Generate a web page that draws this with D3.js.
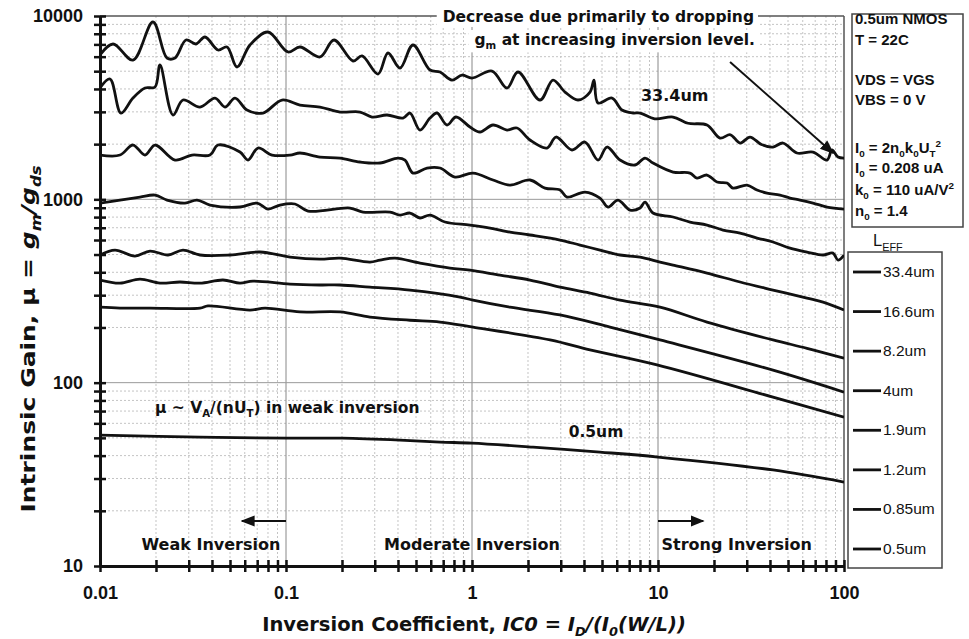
<!DOCTYPE html>
<html><head><meta charset="utf-8">
<script src="https://cdn.jsdelivr.net/npm/d3@7"></script>
<style>body{margin:0;background:#fff}svg{display:block}</style>
</head><body>
<svg id="c" width="969" height="639" font-family="'DejaVu Sans', sans-serif"></svg>
<script>
// ---- data (IC0, intrinsic gain) ----
const icTicks = [0.01, 0.1, 1, 10, 100];
const gainTicks = [10, 100, 1000, 10000];
const legendLabels = ["33.4um","16.6um","8.2um","4um","1.9um","1.2um","0.85um","0.5um"];

const L334 = [[0.01,6128],[0.01175,7036],[0.01504,5754],[0.01927,9275],[0.02292,5900],[0.0253,5900],[0.029,7397],[0.03282,7036],[0.03668,7682],[0.04309,6525],[0.04818,6776],[0.05452,5269],[0.06405,6949],[0.08004,8179],[0.1025,6364],[0.1189,6776],[0.1523,5976],[0.1812,7397],[0.2292,5683],[0.2563,6052],[0.3123,4825],[0.3535,6284],[0.4103,5203],[0.4817,6949],[0.5946,5074],[0.673,4948],[0.7806,4474],[0.8838,4765],[1.0,4588],[1.281,5010],[1.542,4048],[1.767,4948],[2.321,3481],[2.726,4474],[3.162,3848],[3.715,3481],[4.309,3848],[4.528,4474],[4.757,3352],[5.657,3569],[6.405,3070],[7.337,2957],[8.004,2957],[9.6,2750],[12.04,2812],[14.5,2600],[18.34,2543],[21.54,2160],[24.5,2250],[27.61,2028],[31.24,2187],[36,1990],[41.52,1929],[46.99,2028],[55.88,1789],[68.13,1811],[81.04,1638],[86.19,1858],[92.85,1701],[100,1680]];
const L166 = [[0.01,4048],[0.01132,4531],[0.01297,2957],[0.01504,3569],[0.01746,4048],[0.01976,4099],[0.02101,5404],[0.02469,2884],[0.02794,3481],[0.03449,3188],[0.04152,3569],[0.04699,3188],[0.05318,3569],[0.0617,3070],[0.07523,2957],[0.09517,3481],[0.1189,3269],[0.1523,3188],[0.1952,2994],[0.25,2994],[0.29,2812],[0.3491,2884],[0.4256,2777],[0.4642,2957],[0.5253,2388],[0.5946,2777],[0.6482,2957],[0.7337,2543],[0.8204,2812],[0.9754,2480],[1.104,2329],[1.297,2543],[1.542,2388],[1.746,2449],[2.05,2106],[2.53,1905],[2.829,2187],[3.449,1858],[4.05,2054],[4.757,1638],[5.318,1929],[6.248,1638],[7.523,1539],[8.513,1680],[9.399,1578],[12.04,1409],[14.86,1391],[16.21,1307],[18.34,1357],[20.76,1243],[23.5,1227],[25.3,1152],[30.1,1196],[34.06,1124],[38.55,1082],[45.29,1055],[51.25,1016],[57.99,991],[68.13,954],[81.04,908],[100,885]];
const L82 = [[0.01,1744],[0.01281,1744],[0.01504,1978],[0.01746,1744],[0.01976,1978],[0.0253,1638],[0.03124,1744],[0.03902,1744],[0.04309,1978],[0.05657,1811],[0.06248,1638],[0.07071,1905],[0.0841,1744],[0.1051,1744],[0.1189,1789],[0.1523,1701],[0.1952,1680],[0.25,1598],[0.3202,1578],[0.4002,1680],[0.4363,1638],[0.4817,1391],[0.5729,1482],[0.673,1482],[0.8101,1323],[1.0125,1391],[1.297,1275],[1.6,1196],[2.05,1275],[2.469,1152],[2.973,1124],[3.242,1029],[4.05,1096],[4.877,1016],[5.384,908],[6.095,991],[7.071,874],[8.004,896],[8.513,966],[9.399,842],[12.04,801],[14.86,752],[18.34,724],[22.36,680],[27.61,655],[34.06,615],[41.52,585],[51.25,542],[63.24,516],[77.13,497],[87.27,509],[92.85,466],[100,497]];
const L4 = [[0.01,954],[0.01281,991],[0.01641,1029],[0.01976,1055],[0.02292,991],[0.02864,954],[0.03322,991],[0.03902,931],[0.05657,908],[0.06984,954],[0.08004,885],[0.09285,931],[0.1118,943],[0.1313,863],[0.2208,896],[0.2594,852],[0.3624,852],[0.4103,821],[0.4642,842],[0.5253,791],[0.5946,821],[0.7157,752],[0.9754,724],[1.25,697],[1.6,663],[2.05,639],[2.973,600],[3.808,563],[4.877,529],[6.248,497],[8.004,484],[10.25,455],[12.04,438],[18.34,396],[27.61,354],[41.52,320],[63.24,289],[77.13,275],[100,249]];
const L19 = [[0.01,497],[0.01204,529],[0.01542,490],[0.01857,522],[0.02321,497],[0.02794,529],[0.03449,497],[0.05,497],[0.07249,516],[0.1051,484],[0.1523,472],[0.1952,478],[0.2829,455],[0.3202,466],[0.3855,478],[0.5253,449],[0.7614,422],[0.9754,411],[1.414,386],[2.05,363],[2.973,332],[4.309,308],[6.248,282],[10.25,258],[18.34,214],[41.52,171],[63.24,154],[100,136]];
const L12 = [[0.01,363],[0.01281,349],[0.01641,367],[0.02101,349],[0.02692,354],[0.03449,349],[0.04584,363],[0.05657,349],[0.06647,358],[0.1051,345],[0.1523,341],[0.1952,341],[0.2829,332],[0.4642,320],[0.8619,293],[1.0125,282],[1.6,258],[2.973,234],[5.52,201],[10.25,171],[41.52,117],[100,88.8]];
const L085 = [[0.01,258],[0.01281,255],[0.01857,255],[0.03449,255],[0.03807,262],[0.06405,249],[0.07713,255],[0.1189,243],[0.1952,243],[0.2829,228],[0.4642,219],[0.673,214],[1.0125,201],[2.627,171],[4.309,151],[9.877,125],[41.52,83.4],[100,64.9]];
const L05 = [[0.01,51.7],[0.03449,50.5],[0.1012,49.8],[0.2001,49.8],[0.4103,48.6],[0.673,47.4],[1.0,46.8],[2.128,44.5],[4.877,41.8],[10,39.3],[41.52,33.4],[100,28.7]];
const curves = [L334, L166, L82, L4, L19, L12, L085, L05];

// ---- drawing ----
const svg = d3.select("#c");
const x = d3.scaleLog().domain([0.01, 100]).range([100, 844]);
const y = d3.scaleLog().domain([10, 10000]).range([566, 16]);

const minorX = [], minorY = [];
for (let d = 0.01; d < 100; d *= 10) for (let k = 1; k <= 9; k++) minorX.push(+(d * k).toPrecision(3));
minorX.push(100);
for (let d = 10; d < 10000; d *= 10) for (let k = 1; k <= 9; k++) minorY.push(d * k);
minorY.push(10000);

const g = svg.append("g");
// grid
g.selectAll(".gx").data(minorX.filter(v => !icTicks.includes(v))).join("line")
  .attr("x1", d => x(d)).attr("x2", d => x(d)).attr("y1", 16).attr("y2", 566)
  .attr("stroke", "#c4c4c4").attr("stroke-width", 1).attr("stroke-dasharray", "2,2");
g.selectAll(".gy").data(minorY.filter(v => !gainTicks.includes(v))).join("line")
  .attr("y1", d => y(d)).attr("y2", d => y(d)).attr("x1", 100).attr("x2", 844)
  .attr("stroke", "#c4c4c4").attr("stroke-width", 1).attr("stroke-dasharray", "2,2");
g.selectAll(".mx").data(icTicks.slice(1, -1)).join("line")
  .attr("x1", d => x(d)).attr("x2", d => x(d)).attr("y1", 16).attr("y2", 566)
  .attr("stroke", "#888").attr("stroke-width", 1);
g.selectAll(".my").data(gainTicks.slice(1, -1)).join("line")
  .attr("y1", d => y(d)).attr("y2", d => y(d)).attr("x1", 100).attr("x2", 844)
  .attr("stroke", "#999").attr("stroke-width", 1);
// frame top/right
g.append("line").attr("x1", 100).attr("x2", 844).attr("y1", 16).attr("y2", 16).attr("stroke", "#555").attr("stroke-width", 1.5);
g.append("line").attr("x1", 844).attr("x2", 844).attr("y1", 16).attr("y2", 566).attr("stroke", "#555").attr("stroke-width", 1.5);

// curves
const defs = svg.append("defs");
defs.append("clipPath").attr("id", "clip").append("rect").attr("x", 100).attr("y", 14).attr("width", 744).attr("height", 552);
defs.append("marker").attr("id", "ah").attr("viewBox", "0 0 10 10").attr("refX", 9).attr("refY", 5)
  .attr("markerWidth", 7).attr("markerHeight", 7).attr("orient", "auto")
  .append("path").attr("d", "M0,1 L10,5 L0,9 Z").attr("fill", "#111");
const line = d3.line().x(d => x(d[0])).y(d => y(d[1])).curve(d3.curveCatmullRom.alpha(0.5));
svg.append("g").attr("clip-path", "url(#clip)").selectAll("path").data(curves).join("path")
  .attr("d", line).attr("fill", "none").attr("stroke", "#111").attr("stroke-width", 2.8).attr("stroke-linejoin", "round");

// axes
const tickFont = "'Liberation Sans', Arial, sans-serif";
function styleAxis(sel) {
  sel.attr("font-family", tickFont);
  sel.select(".domain").attr("stroke", "#111").attr("stroke-width", 3);
  sel.selectAll(".tick line").attr("stroke", "#111").attr("stroke-width", 2.5);
  sel.selectAll("text").attr("font-family", tickFont).attr("font-weight", "bold").attr("font-size", 18).attr("fill", "#111");
}
const fmtY = d => gainTicks.includes(d) ? d3.format("d")(d) : "";
const fmtX = d => icTicks.includes(d) ? String(d) : "";
svg.append("g").attr("transform", "translate(100,0)").call(d3.axisLeft(y).tickValues(minorY).tickFormat(fmtY).tickSizeInner(6).tickSizeOuter(0).tickPadding(11)).call(styleAxis);
svg.append("g").attr("transform", "translate(100,0)").call(d3.axisRight(y).tickValues(minorY).tickFormat("").tickSizeInner(6).tickSizeOuter(0)).call(styleAxis);
svg.append("g").attr("transform", "translate(0,566)").call(d3.axisBottom(x).tickValues(minorX).tickFormat(fmtX).tickSizeInner(6).tickSizeOuter(0).tickPadding(14)).call(styleAxis);
svg.append("g").attr("transform", "translate(0,566)").call(d3.axisTop(x).tickValues(minorX).tickFormat("").tickSizeInner(6).tickSizeOuter(0)).call(styleAxis);

// rich text helper
function rich(sel, parts, size) {
  let shift = 0;
  parts.forEach(([t, k]) => {
    const sub = k.includes("sub"), sup = k.includes("sup");
    const target = sub ? 0.28 * size : sup ? -0.42 * size : 0;
    const ts = sel.append("tspan").text(t).attr("dy", target - shift);
    shift = target;
    if (sub || sup) ts.attr("font-size", size * 0.66);
    if (k.startsWith("i")) ts.attr("font-style", "italic");
  });
}
function txt(xp, yp, size, weight, anchor) {
  return svg.append("text").attr("x", xp).attr("y", yp).attr("font-size", size)
    .attr("font-weight", weight || "bold").attr("text-anchor", anchor || "start").attr("fill", "#111");
}

// axis titles
rich(txt(474, 631, 19.5, "bold", "middle"), [["Inversion Coefficient, ", "n"], ["IC0 = I", "i"], ["D", "isub"], ["/(", "i"], ["I", "i"], ["0", "isub"], ["(W/L))", "i"]], 19.5);
const yt = svg.append("text").attr("transform", "translate(35,339) rotate(-90) scale(1.25,1)").attr("text-anchor", "middle")
  .attr("font-size", 20).attr("font-weight", "bold").attr("fill", "#111");
rich(yt, [["Intrinsic Gain, \u03bc = ", "n"], ["g", "i"], ["m", "isub"], ["/", "i"], ["g", "i"], ["ds", "isub"]], 20);

// annotation: decrease
const a1 = txt(754, 22, 15.5, "bold", "end").text("Decrease due primarily to dropping");
const a2 = txt(755, 45, 15.5, "bold", "end");
rich(a2, [["g", "n"], ["m", "sub"], [" at increasing inversion level.", "n"]], 15.5);
[a1, a2].forEach(t => {
  const b = t.node().getBBox();
  svg.append("rect").attr("x", b.x - 6).attr("y", b.y - 1).attr("width", b.width + 10).attr("height", b.height + 2).attr("fill", "#fff");
  t.raise();
});
svg.append("line").attr("x1", x(24.4)).attr("y1", y(5610)).attr("x2", x(87.3)).attr("y2", y(1789))
  .attr("stroke", "#111").attr("stroke-width", 2).attr("marker-end", "url(#ah)");

// curve labels
txt(x(12.3), y(3450), 16, "bold", "middle").text("33.4um");
txt(x(4.64), y(50.5), 15.5, "bold", "middle").text("0.5um");
rich(txt(155, 413, 15.5, "bold", "start"), [["\u03bc ~ V", "n"], ["A", "sub"], ["/(nU", "n"], ["T", "sub"], [") in weak inversion", "n"]], 15.5);

// inversion region labels
txt(x(0.0395), 550, 16, "bold", "middle").text("Weak Inversion");
txt(x(1.0), 550, 16, "bold", "middle").text("Moderate Inversion");
txt(x(26.5), 550, 16, "bold", "middle").text("Strong Inversion");
svg.append("line").attr("x1", x(0.1)).attr("x2", x(0.058)).attr("y1", 521).attr("y2", 521)
  .attr("stroke", "#111").attr("stroke-width", 2).attr("marker-end", "url(#ah)");
svg.append("line").attr("x1", x(10)).attr("x2", x(17.5)).attr("y1", 521).attr("y2", 521)
  .attr("stroke", "#111").attr("stroke-width", 2).attr("marker-end", "url(#ah)");

// info box
svg.append("rect").attr("x", 852).attr("y", 14).attr("width", 111).attr("height", 213).attr("fill", "#fff").attr("stroke", "#444").attr("stroke-width", 1.5);
const info = [
  [24, [["0.5um NMOS", "n"]]],
  [45, [["T = 22C", "n"]]],
  [85, [["VDS = VGS", "n"]]],
  [105, [["VBS = 0 V", "n"]]],
  [153, [["I", "n"], ["0", "sub"], [" = 2n", "n"], ["0", "sub"], ["k", "n"], ["0", "sub"], ["U", "n"], ["T", "sub"], ["2", "sup"]]],
  [173, [["I", "n"], ["0", "sub"], [" = 0.208 uA", "n"]]],
  [195, [["k", "n"], ["0", "sub"], [" = 110 uA/V", "n"], ["2", "sup"]]],
  [216, [["n", "n"], ["0", "sub"], [" = 1.4", "n"]]]
];
info.forEach(([yy, parts]) => rich(txt(855, yy, 15, "bold", "start").attr("font-family", tickFont), parts, 15));

// legend
rich(txt(873, 246, 16.5, "normal", "start").attr("font-family", tickFont), [["L", "n"], ["EFF", "sub"]], 16.5);
svg.append("rect").attr("x", 848).attr("y", 252).attr("width", 94).attr("height", 316).attr("fill", "#fff").attr("stroke", "#444").attr("stroke-width", 1.5);
const ly = d3.scalePoint().domain(legendLabels).range([272, 549]);
const lg = svg.append("g").selectAll("g").data(legendLabels).join("g").attr("transform", d => `translate(0,${ly(d)})`);
lg.append("line").attr("x1", 853).attr("x2", 881).attr("stroke", "#111").attr("stroke-width", 2.8);
lg.append("text").attr("x", 883).attr("y", 5).attr("font-size", 15.5).attr("font-family", tickFont).attr("fill", "#111").text(d => d);
</script>
</body></html>
